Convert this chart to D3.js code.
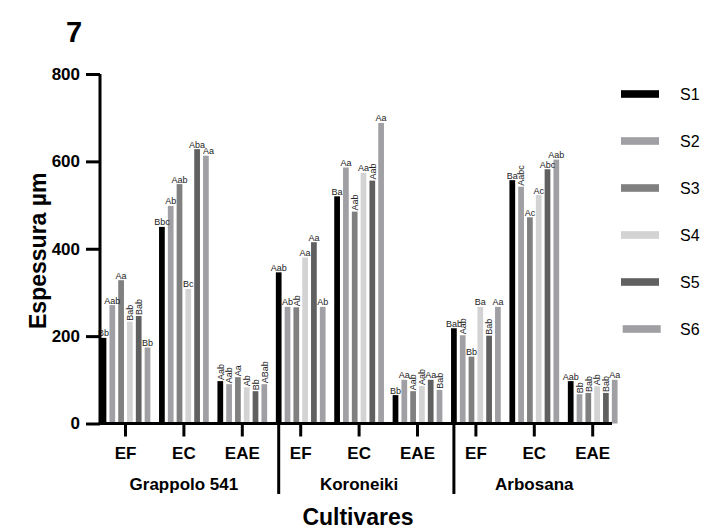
<!DOCTYPE html>
<html>
<head>
<meta charset="utf-8">
<script src="https://cdn.jsdelivr.net/npm/d3@7"></script>
<style>
  html, body { margin: 0; padding: 0; background: #fff; }
  svg { display: block; font-family: "Liberation Sans", Arial, sans-serif; }
</style>
</head>
<body>
<svg id="chart" width="705" height="532"></svg>
<script>
// Cultivars, extract types and treatment series
const cultivars = ["Grappolo 541", "Koroneiki", "Arbosana"];
const extracts = ["EF", "EC", "EAE"];
const seriesNames = ["S1", "S2", "S3", "S4", "S5", "S6"];
const yTicks = [0, 200, 400, 600, 800];

// Thickness (µm) per series, in order: Grappolo EF, EC, EAE, Koroneiki EF, EC, EAE, Arbosana EF, EC, EAE
const s1Values = [196, 450, 97, 346, 520, 65, 218, 557, 97];
const s2Values = [271, 498, 90, 267, 586, 100, 202, 542, 67];
const s3Values = [328, 548, 106, 266, 485, 74, 153, 472, 70];
const s4Values = [233, 308, 83, 380, 574, 86, 267, 523, 85];
const s5Values = [246, 628, 74, 415, 556, 100, 201, 582, 70];
const s6Values = [174, 613, 90, 267, 688, 77, 267, 604, 100];

// Significance letters per series (same order)
const s1Letters = ["Bb", "Bbc", "Aab", "Aab", "Ba", "Bb", "Bab", "Ba", "Aab"];
const s2Letters = ["Aab", "Ab", "Aab", "Ab", "Aa", "Aa", "Aab", "Aabc", "Bb"];
const s3Letters = ["Aa", "Aab", "Aa", "Ab", "Aab", "Aab", "Bb", "Ac", "Bab"];
const s4Letters = ["Bab", "Bc", "Ab", "Aa", "Aa", "Aab", "Ba", "Ac", "Ab"];
const s5Letters = ["Bab", "Aba", "Bb", "Aa", "Aab", "Aa", "Bab", "Abc", "Bab"];
const s6Letters = ["Bb", "Aa", "ABab", "Ab", "Aa", "Bab", "Aa", "Aab", "Aa"];

// Which letters are written vertically (1 = rotated)
const s1Vertical = [0, 0, 1, 0, 0, 0, 0, 0, 0];
const s2Vertical = [0, 0, 1, 0, 0, 0, 1, 1, 1];
const s3Vertical = [0, 0, 1, 1, 1, 1, 0, 0, 1];
const s4Vertical = [1, 0, 1, 0, 0, 1, 0, 0, 1];
const s5Vertical = [1, 0, 1, 0, 1, 0, 1, 0, 1];
const s6Vertical = [0, 0, 1, 0, 0, 1, 0, 0, 0];

const seriesColors = ["#000000", "#a0a0a4", "#808080", "#d3d3d3", "#606060", "#a0a0a4"];

const valueTable = [s1Values, s2Values, s3Values, s4Values, s5Values, s6Values];
const letterTable = [s1Letters, s2Letters, s3Letters, s4Letters, s5Letters, s6Letters];
const verticalTable = [s1Vertical, s2Vertical, s3Vertical, s4Vertical, s5Vertical, s6Vertical];

const groups = [];
cultivars.forEach(c => extracts.forEach(e => groups.push({ cultivar: c, extract: e, key: c + "|" + e })));

const bars = [];
groups.forEach((g, gi) => {
  seriesNames.forEach((s, si) => {
    bars.push({
      key: g.key, series: s, si, gi,
      value: valueTable[si][gi],
      letter: letterTable[si][gi],
      vertical: verticalTable[si][gi] === 1
    });
  });
});

const svg = d3.select("#chart");

const y = d3.scaleLinear().domain([0, 800]).range([423.5, 74]);
const x0 = d3.scaleBand().domain(groups.map(g => g.key)).range([96.3, 621.9]).padding(0);
const x1 = d3.scaleBand().domain(seriesNames).range([-26.4, 26.4]).paddingInner(0.35).paddingOuter(0.175);

const axisX = 100;
const baseY = y(0);

// Bars
svg.append("g").selectAll("rect").data(bars).join("rect")
  .attr("x", d => x0(d.key) + x0.bandwidth() / 2 + x1(d.series))
  .attr("y", d => y(d.value))
  .attr("width", x1.bandwidth())
  .attr("height", d => baseY - y(d.value))
  .attr("fill", d => seriesColors[d.si]);

// Letters above bars; a horizontal letter sitting just right of a taller
// neighbour's letter is nudged right so the two stay readable
const labelG = svg.append("g").attr("font-size", 9).attr("fill", "#222");
bars.forEach(d => {
  const cx = x0(d.key) + x0.bandwidth() / 2 + x1(d.series) + x1.bandwidth() / 2;
  const ty = y(d.value);
  if (d.vertical) {
    labelG.append("text")
      .attr("transform", `translate(${cx + 3.2},${ty - 1}) rotate(-90)`)
      .attr("text-anchor", "start")
      .text(d.letter);
  } else {
    let nudge = 0;
    if (d.si > 0) {
      const prevVal = valueTable[d.si - 1][d.gi];
      const prevVert = verticalTable[d.si - 1][d.gi] === 1;
      const prevLen = letterTable[d.si - 1][d.gi].length;
      if (!prevVert && prevLen >= 3 && prevVal > d.value && y(d.value) - y(prevVal) < 9) nudge = 2.5;
    }
    labelG.append("text")
      .attr("x", cx + nudge).attr("y", ty - 1.5)
      .attr("text-anchor", "middle")
      .text(d.letter);
  }
});

// Y axis
const yAxis = svg.append("g").attr("transform", `translate(${axisX},0)`)
  .call(d3.axisLeft(y).tickValues(yTicks).tickSize(14).tickPadding(6).tickFormat(d3.format("d")));
yAxis.select(".domain").attr("stroke", "#000").attr("stroke-width", 3)
  .attr("d", `M0,${y(800)}V${baseY + 1.5}`);
yAxis.selectAll(".tick line").attr("stroke", "#000").attr("stroke-width", 3);
yAxis.selectAll(".tick text").attr("font-size", 17).attr("font-weight", "bold").attr("fill", "#000")
  .attr("font-family", "Liberation Sans, Arial, sans-serif");

// X axis
const xAxis = svg.append("g").attr("transform", `translate(0,${baseY})`)
  .call(d3.axisBottom(x0).tickSize(13).tickPadding(10).tickFormat(k => k.split("|")[1]));
xAxis.select(".domain").attr("stroke", "#000").attr("stroke-width", 3)
  .attr("d", `M${axisX - 1.5},0H612`);
xAxis.selectAll(".tick line").attr("stroke", "#000").attr("stroke-width", 3);
xAxis.selectAll(".tick text").attr("font-size", 17).attr("font-weight", "bold").attr("fill", "#000")
  .attr("font-family", "Liberation Sans, Arial, sans-serif");

// Cultivar separators and names
cultivars.forEach((c, ci) => {
  const first = x0(c + "|EF") + x0.bandwidth() / 2;
  const last = x0(c + "|EAE") + x0.bandwidth() / 2;
  svg.append("text")
    .attr("x", (first + last) / 2).attr("y", 490)
    .attr("text-anchor", "middle").attr("font-size", 17).attr("font-weight", "bold")
    .text(c);
  if (ci > 0) {
    const sx = first + x1("S1") + x1.bandwidth() / 2;
    svg.append("line").attr("x1", sx).attr("x2", sx).attr("y1", baseY - 1.5).attr("y2", 494)
      .attr("stroke", "#000").attr("stroke-width", 3);
  }
});

// Axis titles
svg.append("text").attr("x", 358).attr("y", 525).attr("text-anchor", "middle")
  .attr("font-size", 23).attr("font-weight", "bold").text("Cultivares");
svg.append("text").attr("transform", `translate(46,${(y(0) + y(800)) / 2 + 2}) rotate(-90)`)
  .attr("text-anchor", "middle").attr("font-size", 23).attr("font-weight", "bold").text("Espessura µm");

// Panel number
svg.append("text").attr("x", 66).attr("y", 42).attr("font-size", 29).attr("font-weight", "bold").text("7");

// Legend
const legendY = d3.scalePoint().domain(seriesNames).range([94, 329]);
const legend = svg.append("g");
seriesNames.forEach((s, i) => {
  const dx = s === "S6" ? 1.7 : 0;
  legend.append("rect").attr("x", 621 + dx).attr("y", legendY(s) - 3.8)
    .attr("width", 38).attr("height", 7.6).attr("fill", seriesColors[i]);
  legend.append("text").attr("x", 680).attr("y", legendY(s) + 6)
    .attr("font-size", 16).text(s);
});
</script>
</body>
</html>
